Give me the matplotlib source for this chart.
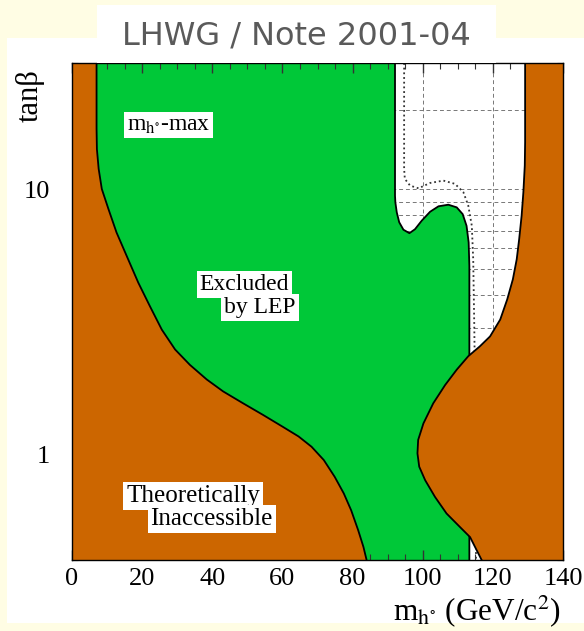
import numpy as np
import matplotlib
matplotlib.use("Agg")
import matplotlib.pyplot as plt
from matplotlib.patches import Rectangle
from matplotlib.ticker import FixedLocator, NullFormatter, FixedFormatter

plt.rcParams['font.family'] = ['Liberation Serif', 'DejaVu Serif']
plt.rcParams['mathtext.fontset'] = 'stix'

#---------------- data ----------------
# left edge of the theoretically allowed region (m_h in GeV, tan beta)
left_mh = [7.0, 7.0, 7.1, 7.6, 8.5, 10.4, 12.7, 15.6, 18.9, 22.2, 25.6, 29.4, 33.6, 38.4, 43.1,
           48.8, 54.5, 60.2, 64.6, 68.3, 71.8, 74.9, 77.5, 79.6, 81.6, 83.1, 84.0]
left_tb = [30, 17, 14.2, 11.96, 10.04, 8.43, 6.88, 5.61, 4.45, 3.63, 2.96, 2.49, 2.18, 1.92, 1.73,
           1.56, 1.41, 1.27, 1.17, 1.07, 0.953, 0.824, 0.713, 0.616, 0.518, 0.448, 0.40]

# right edge of the LEP exclusion (observed)
excl_mh = [92.1, 92.1, 92.2, 92.6, 93.3, 94.5, 96.2, 97.8, 99.7, 102.1, 104.5, 107.3, 109.7,
           111.4, 112.5, 113.1, 113.3, 113.3]
excl_tb = [30, 9.47, 8.94, 8.20, 7.52, 7.05, 6.84, 7.08, 7.62, 8.24, 8.64, 8.76, 8.56,
           8.07, 7.29, 6.31, 5.14, 0.40]

# expected exclusion (dotted)
exp_mh = [94.7, 94.7, 94.9, 96.4, 98.8, 102.1, 105.9, 109.2, 111.6, 113.0, 114.0, 114.4, 114.7,
          114.8, 115.2]
exp_tb = [30, 11.96, 10.96, 10.34, 10.1, 10.58, 10.8, 10.5, 9.76, 8.68, 7.29, 5.45, 3.05,
          2.4, 0.40]

# right edge of the theoretically allowed region
right_mh = [129.2, 129.2, 129.1, 128.7, 128.2, 127.5, 126.8, 125.7, 124.1, 122.1, 119.2, 116.3,
            113.0, 109.7, 106.4, 103.0, 100.2, 98.7, 98.5, 99.0, 100.7, 103.5, 106.8, 110.6,
            113.5, 115.4, 116.8]
right_tb = [30, 15.1, 12.3, 9.76, 7.96, 6.49, 5.45, 4.58, 3.85, 3.23, 2.79, 2.56,
            2.35, 2.09, 1.83, 1.56, 1.31, 1.135, 1.01, 0.90, 0.80, 0.692, 0.599, 0.533,
            0.488, 0.435, 0.40]

x_major = [0, 20, 40, 60, 80, 100, 120, 140]
x_minor = list(range(0, 141, 5))
y_major = [1, 10]
y_major_labels = ['1', '10']
y_minor = [0.4, 0.5, 0.6, 0.7, 0.8, 0.9, 2, 3, 4, 5, 6, 7, 8, 9, 20, 30]

green = '#00C838'
orange = '#CC6600'

#---------------- figure ----------------
fig = plt.figure(figsize=(5.84, 6.31), dpi=100, facecolor='#FFFDE4')
W, H = 584.0, 631.0

# white panel behind the plot
fig.patches.append(Rectangle((7 / W, 1 - 623 / H), 577 / W, 585 / H,
                             transform=fig.transFigure, facecolor='white',
                             edgecolor='none', zorder=-5))

ax = fig.add_axes([72 / W, 1 - 560 / H, 491 / W, 497 / H])
ax.set_facecolor('white')
ax.set_yscale('log')
ax.set_xlim(0, 140)
ax.set_ylim(0.4, 30)

# dashed grid, only visible in the white part
for xv in x_major:
    ax.axvline(xv, color='#777777', ls=(0, (4, 3)), lw=0.7, zorder=0.5)
for yv in y_major + y_minor:
    ax.axhline(yv, color='#777777', ls=(0, (4, 3)), lw=0.7, zorder=0.5)

# expected limit
ax.plot(exp_mh, exp_tb, color='#333333', ls=(0, (1, 1.6)), lw=1.3, zorder=0.8)

# excluded by LEP (green)
ax.fill(left_mh + excl_mh[::-1], left_tb + excl_tb[::-1], color=green, lw=0, zorder=1)
ax.plot(excl_mh, excl_tb, color='black', lw=1.3, zorder=1.5)
# theoretically inaccessible (orange)
ax.fill([0] + left_mh + [0], [30] + left_tb + [0.4], color=orange, lw=0, zorder=2)
ax.fill(right_mh + [140, 140], right_tb + [0.4, 30], color=orange, lw=0, zorder=2)

ax.plot(left_mh, left_tb, color='black', lw=1.3, zorder=3)
ax.plot(right_mh, right_tb, color='black', lw=1.3, zorder=3)

# ticks
ax.xaxis.set_major_locator(FixedLocator(x_major))
ax.xaxis.set_minor_locator(FixedLocator(x_minor))
ax.yaxis.set_major_locator(FixedLocator(y_major))
ax.yaxis.set_major_formatter(FixedFormatter(y_major_labels))
ax.yaxis.set_minor_locator(FixedLocator(y_minor))
ax.yaxis.set_minor_formatter(NullFormatter())
ax.tick_params(which='both', direction='in', top=True, right=True, color='#333333')
ax.tick_params(which='major', length=7, width=1)
ax.tick_params(which='minor', length=4, width=0.8)
ax.tick_params(axis='x', which='major', labelsize=19, pad=6)
ax.tick_params(axis='y', which='major', labelsize=19, pad=16)
for s in ax.spines.values():
    s.set_linewidth(1.0)
    s.set_zorder(4)

# axis titles
fig.text(30 / W, 1 - 96 / H, 'tanβ', rotation=90, fontsize=22, ha='center', va='center')
fig.text(477 / W, 1 - 611 / H, r'm$_{\mathrm{h}^{\circ}}$ (GeV/c$^{2}$)', fontsize=22.5,
         ha='center', va='center')

# labels inside the plot
box = dict(facecolor='white', edgecolor='none', pad=2)
ax.text(15.6, 17.5, r'm$_{\mathrm{h}^{\circ}}$-max', fontsize=17, ha='left', va='center',
        bbox=box, zorder=5)
ax.text(36.4, 4.39, 'Excluded', fontsize=17, ha='left', va='center', bbox=box, zorder=5)
ax.text(43.4, 3.59, 'by LEP', fontsize=17, ha='left', va='center', bbox=box, zorder=5)
ax.text(15.4, 0.697, 'Theoretically', fontsize=18, ha='left', va='center', bbox=box, zorder=5)
ax.text(22.4, 0.57, 'Inaccessible', fontsize=18, ha='left', va='center', bbox=box, zorder=5)

# note banner at the top
fig.patches.append(Rectangle((97 / W, 1 - 63 / H), 399 / W, 58 / H,
                             transform=fig.transFigure, facecolor='white',
                             edgecolor='none', zorder=10))
fig.text(296 / W, 1 - 36 / H, 'LHWG / Note 2001-04', family='DejaVu Sans',
         fontsize=23, color='#5a5a5a', ha='center', va='center', zorder=11)

fig.savefig('out.png', dpi=100, facecolor=fig.get_facecolor())
